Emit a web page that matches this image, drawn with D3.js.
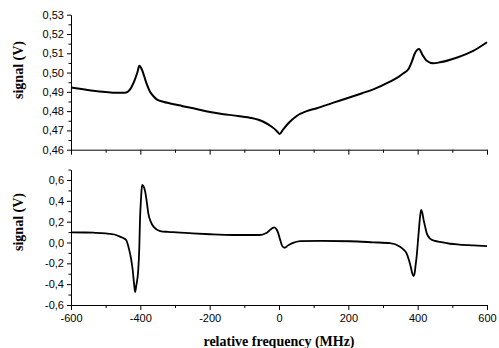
<!DOCTYPE html>
<html><head><meta charset="utf-8">
<script src="https://cdn.jsdelivr.net/npm/d3@7"></script>
<style>
body{margin:0;background:#fff;}
svg{display:block;}
.tick text{font-family:"Liberation Sans",Arial,sans-serif;font-size:11px;fill:#000;}
.title{font-family:"Liberation Serif","Times New Roman",serif;font-weight:bold;font-size:14px;fill:#000;}
</style></head>
<body>
<svg id="c" width="499" height="348"></svg>
<script>
// ---- data ----
const topFreq = [-600,-560,-536,-500,-470,-444,-430,-418,-408,-403,-398,-393,-384,-372,-362,-353,-334,-314,-280,-247,-199,-160,-132,-84,-45,-21,-8,2,12,27,51,80,109,157,205,240,272,320,345,359,373,383,392,404,414,426,445,464,512,560,600];
const topSignal = [0.4922,0.4912,0.4906,0.4899,0.4895,0.4895,0.4912,0.4953,0.5004,0.5035,0.5025,0.5004,0.4953,0.4901,0.4877,0.4861,0.4849,0.4840,0.4827,0.4815,0.4795,0.4784,0.4778,0.4766,0.4745,0.4719,0.4700,0.4682,0.4705,0.4737,0.4775,0.4800,0.4815,0.4844,0.4872,0.4893,0.4913,0.4953,0.4978,0.4996,0.5017,0.5056,0.5100,0.5122,0.5091,0.5061,0.5048,0.5053,0.5077,0.5112,0.5157];
const botFreq = [-600,-560,-536,-500,-487,-470,-459,-448,-441,-432,-427,-422,-418,-415,-412,-406,-403,-401,-398,-395,-391,-386,-381,-377,-370,-362,-343,-320,-295,-250,-199,-132,-55,-35,-14,-6,-2,3,8,13,17,25,37,61,120,205,272,320,349,360,368,375,380,384,388,391,394,397,401,404,407,410,413,417,421,426,435,450,464,493,520,560,600];
const botSignal = [0.098,0.096,0.094,0.088,0.082,0.072,0.056,0.040,0.024,-0.072,-0.15,-0.264,-0.40,-0.475,-0.42,-0.264,-0.05,0.216,0.42,0.552,0.54,0.488,0.38,0.28,0.20,0.152,0.110,0.102,0.098,0.088,0.079,0.072,0.072,0.094,0.146,0.12,0.088,0.03,-0.024,-0.046,-0.050,-0.03,-0.008,0.014,0.016,0.012,0.002,-0.006,-0.040,-0.07,-0.104,-0.17,-0.232,-0.29,-0.322,-0.30,-0.22,-0.136,0.02,0.14,0.25,0.312,0.29,0.22,0.16,0.09,0.040,0.015,0.005,-0.012,-0.020,-0.028,-0.034];
const xTicks = [-600,-400,-200,0,200,400,600];
const xMinor = [-500,-300,-100,100,300,500];
const topYTicks = [0.46,0.47,0.48,0.49,0.50,0.51,0.52,0.53];
const botYTicks = [-0.6,-0.4,-0.2,0.0,0.2,0.4,0.6];
const botYMinor = [-0.5,-0.3,-0.1,0.1,0.3,0.5,0.7];
const topYMinor = [0.465,0.475,0.485,0.495,0.505,0.515,0.525];
const xTitle = "relative frequency (MHz)";
const yTitle = "signal (V)";

// ---- drawing ----
const svg = d3.select("#c");
const loc = d3.formatLocale({decimal:",",thousands:".",grouping:[3],currency:["",""],minus:"-"});
const f2 = loc.format(".2f"), f1 = loc.format(".1f"), f0 = loc.format("d");

const x = d3.scaleLinear().domain([-600,600]).range([71,487]);
const yT = d3.scaleLinear().domain([0.46,0.53]).range([149.7,14.7]);
const yB = d3.scaleLinear().domain([-0.6,0.7]).range([305,305-1.3*104.17]);

function axisG(tr){return svg.append("g").attr("transform",tr);}
function style(g){
  g.selectAll("path,line").attr("stroke","#000").attr("stroke-width",1);
}

// top panel axes
let g = axisG(`translate(0,${yT(0.46)})`).call(d3.axisBottom(x).tickValues(xTicks).tickSize(5).tickSizeOuter(0).tickFormat(""));
style(g);
g = axisG(`translate(0,${yT(0.46)})`).call(d3.axisBottom(x).tickValues(xMinor).tickSize(3).tickSizeOuter(0).tickFormat(""));
style(g); g.select(".domain").remove();
g = axisG(`translate(${x(-600)},0)`).call(d3.axisLeft(yT).tickValues(topYTicks).tickSize(4).tickSizeOuter(0).tickPadding(3).tickFormat(f2));
style(g);
g = axisG(`translate(${x(-600)},0)`).call(d3.axisLeft(yT).tickValues(topYMinor).tickSize(2.5).tickSizeOuter(0).tickFormat(""));
style(g); g.select(".domain").remove();

// bottom panel axes
g = axisG(`translate(0,${yB(-0.6)})`).call(d3.axisBottom(x).tickValues(xTicks).tickSize(5).tickSizeOuter(0).tickPadding(4).tickFormat(f0));
style(g);
g = axisG(`translate(0,${yB(-0.6)})`).call(d3.axisBottom(x).tickValues(xMinor).tickSize(3).tickSizeOuter(0).tickFormat(""));
style(g); g.select(".domain").remove();
g = axisG(`translate(${x(-600)},0)`).call(d3.axisLeft(yB).tickValues(botYTicks).tickSize(4).tickSizeOuter(0).tickPadding(3).tickFormat(f1));
style(g);
g = axisG(`translate(${x(-600)},0)`).call(d3.axisLeft(yB).tickValues(botYMinor).tickSize(2.5).tickSizeOuter(0).tickFormat(""));
style(g); g.select(".domain").remove();
svg.selectAll(".domain").attr("fill","none");

// lines
const topData = topFreq.map((f,i)=>[f,topSignal[i]]);
const botData = botFreq.map((f,i)=>[f,botSignal[i]]);
svg.append("path").datum(topData).attr("fill","none").attr("stroke","#000").attr("stroke-width",2).attr("stroke-linejoin","round")
  .attr("d", d3.line().x(d=>x(d[0])).y(d=>yT(d[1])).curve(d3.curveMonotoneX));
svg.append("path").datum(botData).attr("fill","none").attr("stroke","#000").attr("stroke-width",1.8).attr("stroke-linejoin","round")
  .attr("d", d3.line().x(d=>x(d[0])).y(d=>yB(d[1])).curve(d3.curveMonotoneX));

// titles
svg.append("text").attr("class","title").attr("text-anchor","middle").attr("x",279).attr("y",346).text(xTitle);
svg.append("text").attr("class","title").attr("text-anchor","middle").attr("transform","translate(23,70) rotate(-90)").text(yTitle);
svg.append("text").attr("class","title").attr("text-anchor","middle").attr("transform","translate(23,222) rotate(-90)").text(yTitle);
</script>
</body></html>
